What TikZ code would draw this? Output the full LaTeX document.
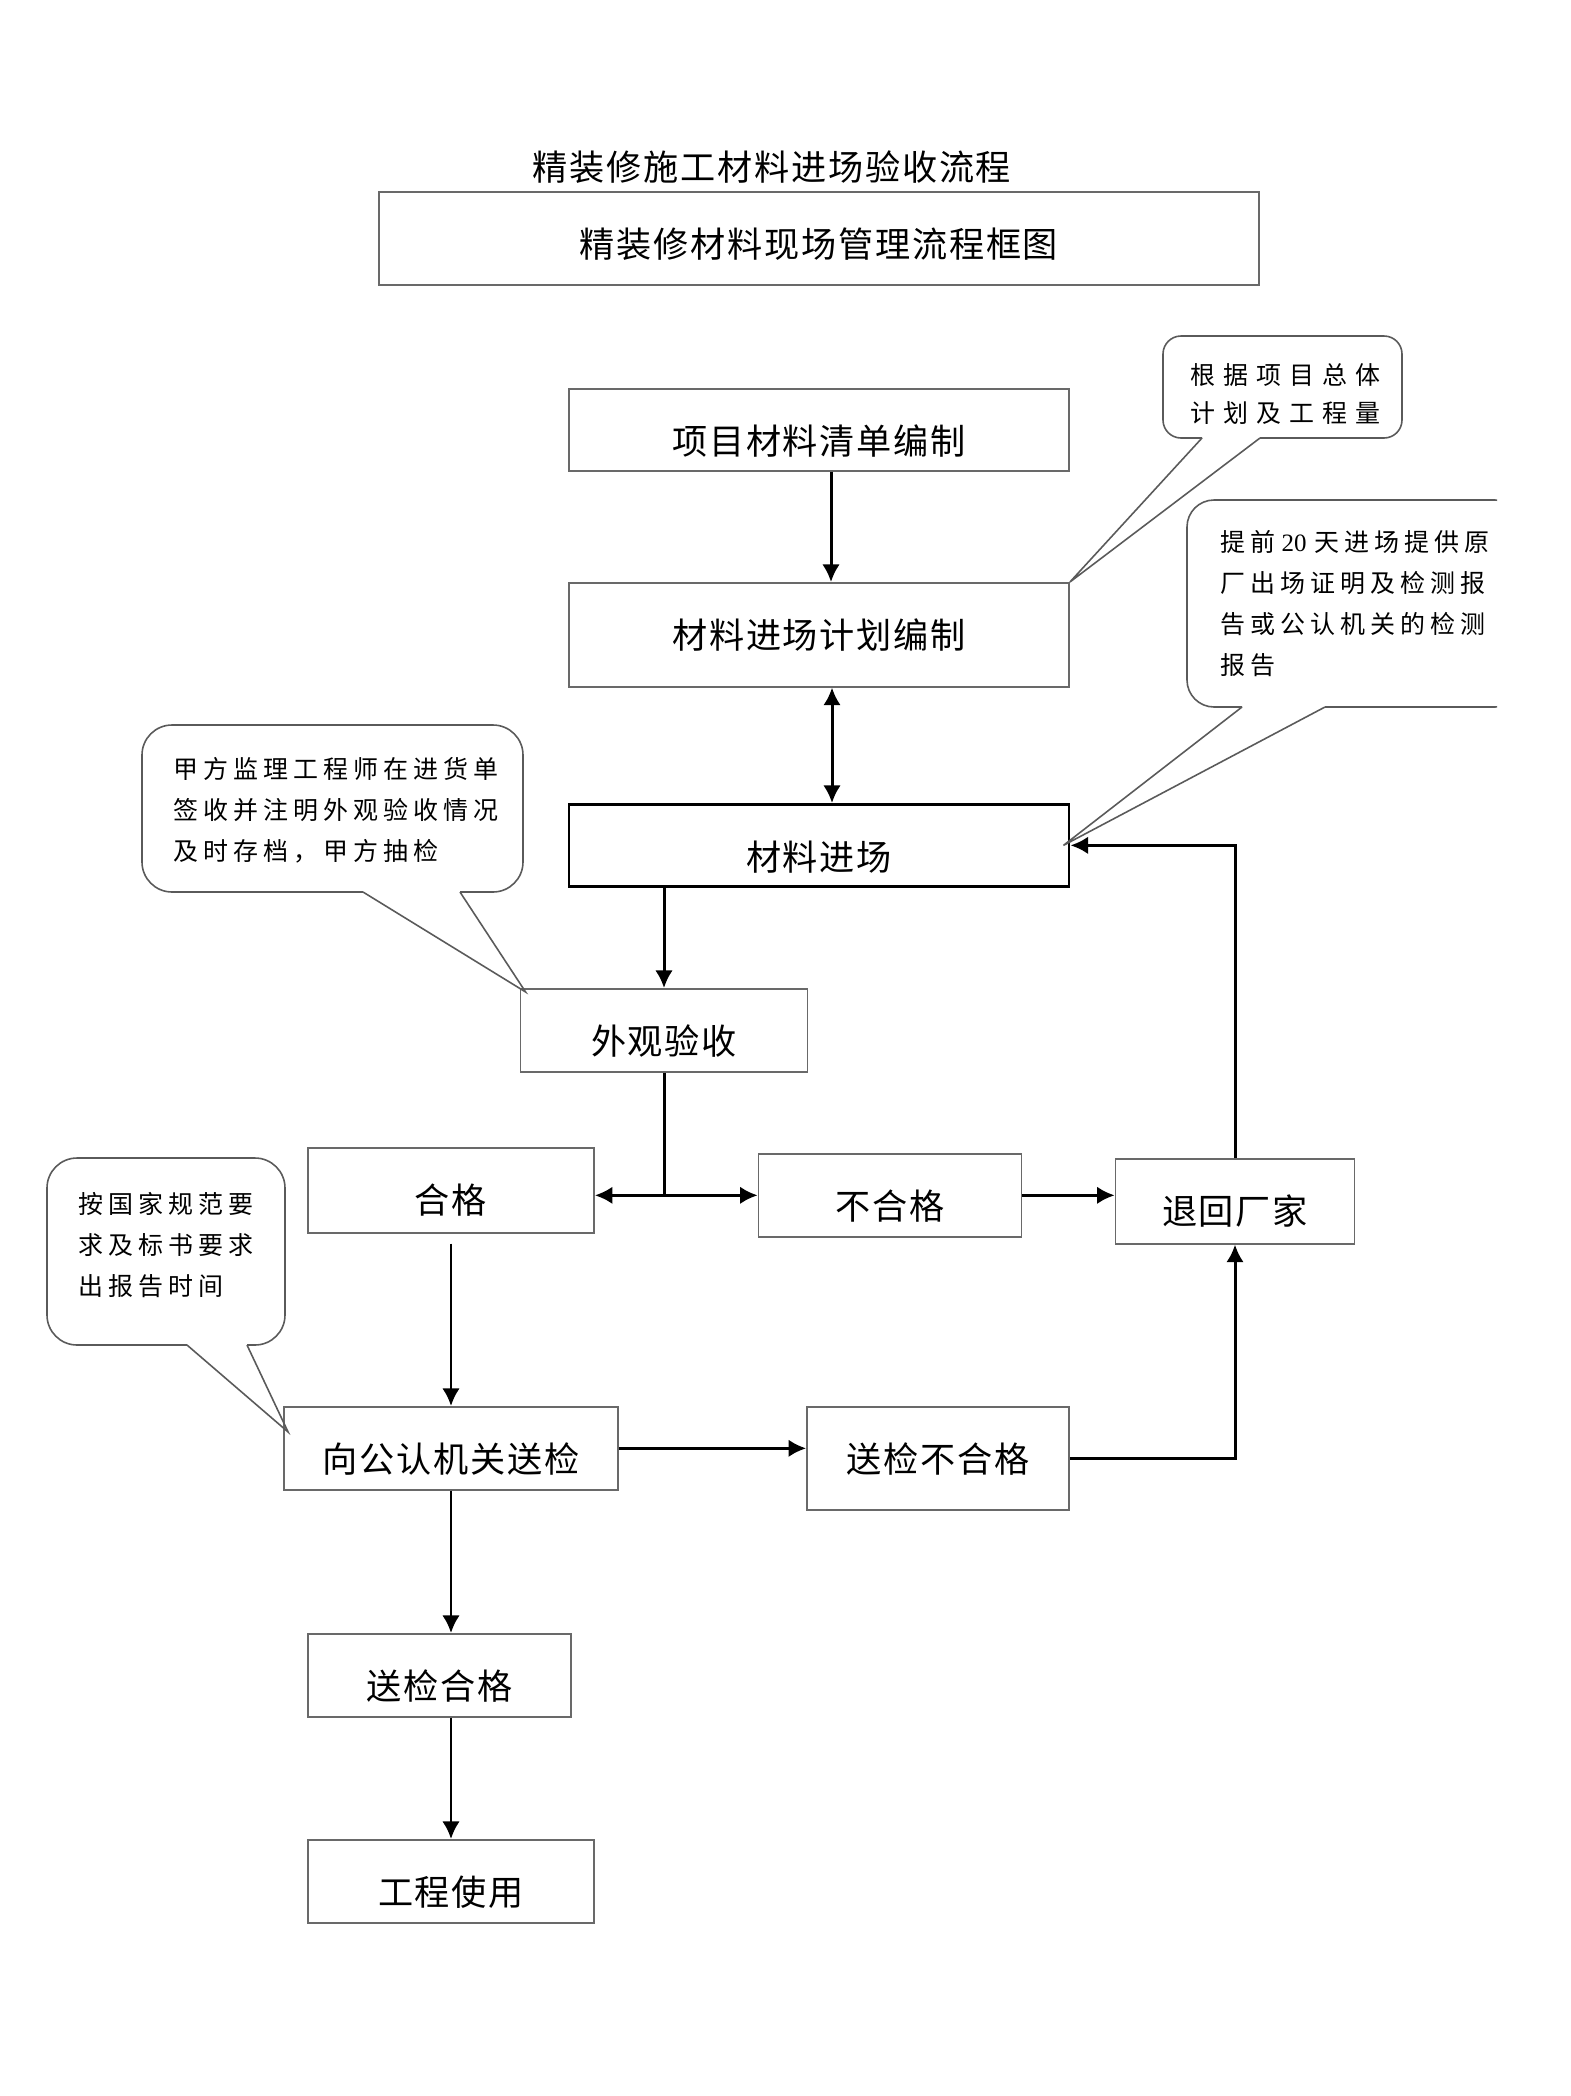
\documentclass[tikz,border=0pt]{standalone}
\usepackage{fontspec}
\setmainfont{Liberation Serif}
\newfontfamily\cjk[LetterSpace=5]{Noto Sans CJK SC}
\newfontfamily\notefont[LetterSpace=20]{Noto Sans CJK SC}
\newfontfamily\widenotefont[LetterSpace=32]{Noto Sans CJK SC}
\usepackage{tikz}
\usetikzlibrary{arrows.meta,calc}
\usepackage{xcolor}
\definecolor{boxgray}{RGB}{105,105,105}
\definecolor{notegray}{RGB}{90,90,90}
\tikzstyle{stepbox}=[draw=boxgray, line width=0.45pt, rectangle, anchor=north, text height=0.66cm, inner ysep=0pt, inner xsep=2pt, font=\cjk\fontsize{10pt}{12pt}\selectfont]
\tikzstyle{keybox}=[stepbox, draw=black, line width=0.75pt]
\tikzstyle{titletext}=[inner sep=0pt, font=\cjk\fontsize{10pt}{12pt}\selectfont]
\tikzstyle{notetext}=[anchor=north west, inner sep=0pt, align=left, font=\notefont\fontsize{7.1pt}{11.67pt}\selectfont]
\tikzstyle{noteline}=[draw=notegray, line width=0.45pt]
\tikzstyle{flow}=[-{Latex[length=5pt,width=5pt]}, line width=0.85pt, black]
\tikzstyle{flow both}=[{Latex[length=5pt,width=5pt]}-{Latex[length=5pt,width=5pt]}]

\begin{document}
\begin{tikzpicture}[x=0.01cm, y=-0.01cm]
\useasboundingbox (0,0) rectangle (1571,2096);

% Titles
\node[titletext] (title) at (772,167) {精装修施工材料进场验收流程};
\node[stepbox, minimum width=8.8cm, text depth=0.27cm] (head) at (819,191) {精装修材料现场管理流程框图};

% Flow boxes
\node[stepbox, minimum width=5cm, text depth=0.16cm] (list) at (819,388) {项目材料清单编制};
\node[stepbox, minimum width=5cm, text depth=0.38cm] (plan) at (819,582) {材料进场计划编制};
\node[keybox, minimum width=5cm, text depth=0.16cm] (arrive) at (819,803) {材料进场};
\node[stepbox, minimum width=2.87cm, text depth=0.17cm] (visual) at (664,988) {外观验收};
\node[stepbox, minimum width=2.86cm, text depth=0.19cm] (pass) at (451,1147) {合格};
\node[stepbox, minimum width=2.63cm, text depth=0.17cm] (fail) at (890,1153) {不合格};
\node[stepbox, minimum width=2.39cm, text depth=0.19cm] (back) at (1235,1158) {退回厂家};
\node[stepbox, minimum width=3.34cm, text depth=0.17cm] (send) at (451,1406) {向公认机关送检};
\node[stepbox, minimum width=2.62cm, text depth=0.37cm] (sendfail) at (938,1406) {送检不合格};
\node[stepbox, minimum width=2.63cm, text depth=0.17cm] (sendok) at (439.5,1633) {送检合格};
\node[stepbox, minimum width=2.86cm, text depth=0.17cm] (use) at (451,1839) {工程使用};

\coordinate (split) at (visual.south |- fail.west);

\begin{scope}[flow]
    % main line
    \draw ([xshift=0.12cm]list.south) -- ([xshift=0.12cm]plan.north);
    \draw[flow both] ([xshift=0.13cm]plan.south) -- ([xshift=0.13cm]arrive.north);
    \draw (arrive.south -| visual.north) -- (visual.north);

    % visual check
    \draw[-] (visual.south) -- (split);
    \draw (split) -- (pass.east |- split);
    \draw (split) -- (fail.west);
    \draw (fail.east) -- (fail.east -| back.west);
    \draw (back.north) |- (arrive.east);

    % lab test
    \draw[shorten <=0.1cm] (pass.south) -- (send.north);
    \draw (send.east) -- (send.east -| sendfail.west);
    \draw (sendfail.east) -| (back.south);
    \draw (send.south) -- (send.south |- sendok.north);
    \draw (sendok.south -| use.north) -- (use.north);
\end{scope}

% notes
\draw[noteline, rounded corners=0.18cm] (1202,438) -- (1163,438) -- (1163,336) -- (1402,336) -- (1402,438) -- (1260,438);
\draw[noteline] (1202,438) -- (plan.north east) -- (1260,438);
\node[notetext, font=\widenotefont\fontsize{7.1pt}{10.8pt}\selectfont] (note1) at (1190,363) {根据项目总体\\计划及工程量};

\begin{scope}
    \clip (0,0) rectangle (1497,2096);
    \draw[noteline, rounded corners=0.27cm] (1242,707) -- (1187,707) -- (1187,500) -- (1522,500) -- (1522,707) -- (1325,707);
\end{scope}
\draw[noteline] (1242,707) -- ($(arrive.east)+(-7,0)$) -- (1325,707);
\node[notetext] (note2) at (1220,530) {提前\hspace{0.06cm}{\rmfamily 20}\hspace{0.08cm}天进场提供原\\厂出场证明及检测报\\告或公认机关的检测\\报告};

\draw[noteline, rounded corners=0.3cm] (363,892) -- (142,892) -- (142,725) -- (523,725) -- (523,892) -- (460,892);
\draw[noteline] (363,892) -- ($(visual.north west)+(6,4)$) -- (460,892);
\node[notetext] (note3) at (173,757) {甲方监理工程师在进货单\\签收并注明外观验收情况\\及时存档，甲方抽检};

\draw[noteline, rounded corners=0.3cm] (187,1345) -- (47,1345) -- (47,1158) -- (285,1158) -- (285,1345) -- (247,1345);
\draw[noteline] (187,1345) -- ($(send.north west)+(5,26)$) -- (247,1345);
\node[notetext] (note4) at (78,1192) {按国家规范要\\求及标书要求\\出报告时间};

\end{tikzpicture}
\end{document}
